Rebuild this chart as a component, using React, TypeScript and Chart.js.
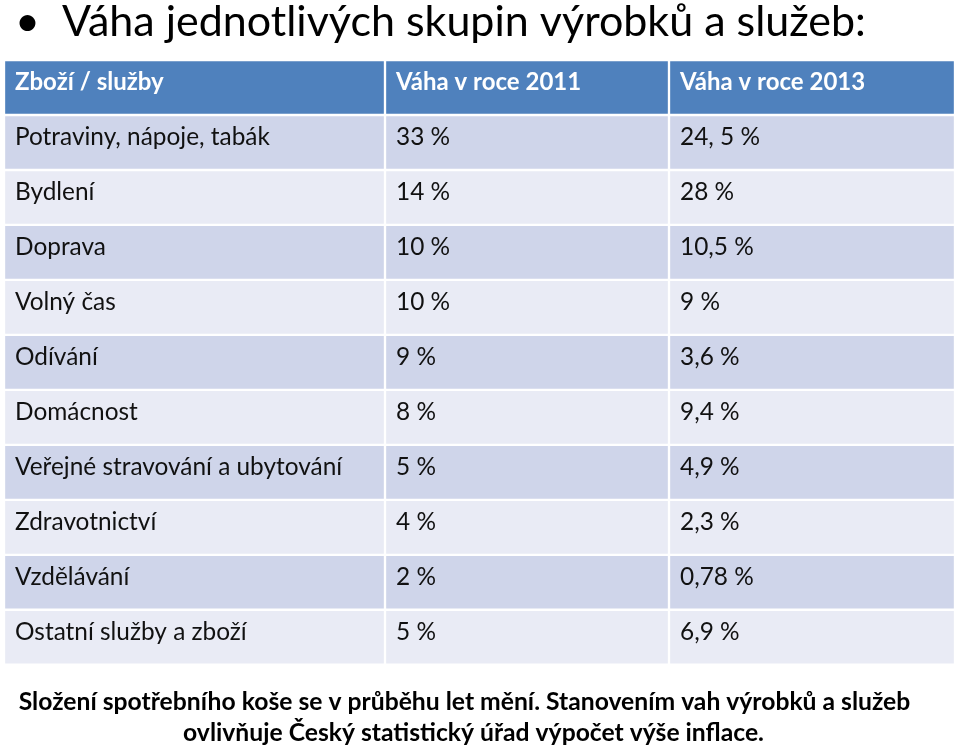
import React, { useEffect, useRef } from "react";
import { Chart, registerables } from "chart.js";

Chart.register(...registerables);

const titleText = " •  Váha jednotlivých skupin výrobků a služeb:";
const footerLines = [
  "Složení spotřebního koše se v průběhu let mění. Stanovením vah výrobků a služeb     ",
  "ovlivňuje Český statistický úřad výpočet výše inflace.  ",
];
const headers = ["Zboží / služby", "Váha v roce 2011", "Váha v roce 2013"];
const categories = [
  "Potraviny, nápoje, tabák",
  "Bydlení",
  "Doprava",
  "Volný čas",
  "Odívání",
  "Domácnost",
  "Veřejné stravování a ubytování",
  "Zdravotnictví",
  "Vzdělávání",
  "Ostatní služby a zboží",
];
const weights2011 = ["33 %", "14 %", "10 %", "10 %", "9 %", "8 %", "5 %", "4 %", "2 %", "5 %"];
const weights2013 = ["24, 5 %", "28 %", "10,5 %", "9 %", "3,6 %", "9,4 %", "4,9 %", "2,3 %", "0,78 %", "6,9 %"];

// layout widths of the three table columns
const columnWidths = [381, 284, 286];

const HEADER_BG = "#4F81BD";
const ROW_DARK = "#CFD5EA";
const ROW_LIGHT = "#E9EBF5";
const FONT = "Lato, 'Open Sans', sans-serif";

export default function App() {
  const ref = useRef<HTMLCanvasElement | null>(null);

  useEffect(() => {
    if (!ref.current) return;
    const rowLabels = ["header", ...categories];
    const columns = [
      [headers[0], ...categories],
      [headers[1], ...weights2011],
      [headers[2], ...weights2013],
    ];
    const rowColor = (i: number) => (i === 0 ? HEADER_BG : i % 2 === 1 ? ROW_DARK : ROW_LIGHT);

    const cellText = {
      id: "cellText",
      afterDatasetsDraw(chart: any) {
        const ctx = chart.ctx;
        ctx.save();
        ctx.textBaseline = "middle";
        ctx.textAlign = "left";
        chart.data.datasets.forEach((_: any, di: number) => {
          const meta = chart.getDatasetMeta(di);
          meta.data.forEach((el: any, ri: number) => {
            const left = Math.min(el.x, el.base);
            if (ri === 0) {
              ctx.font = `bold 24px ${FONT}`;
              ctx.fillStyle = "#ffffff";
            } else {
              ctx.font = `24.4px ${FONT}`;
              ctx.fillStyle = "#111111";
            }
            ctx.fillText(columns[di][ri], left + 11, el.y - 5);
          });
        });
        ctx.restore();
      },
    };

    const chart = new Chart(ref.current, {
      type: "bar",
      data: {
        labels: rowLabels,
        datasets: columnWidths.map((w, ci) => ({
          label: headers[ci],
          data: rowLabels.map(() => w),
          backgroundColor: rowLabels.map((_, i) => rowColor(i)),
          borderColor: "#ffffff",
          borderWidth: 1.5,
          borderSkipped: false,
          categoryPercentage: 1,
          barPercentage: 1,
        })),
      },
      options: {
        indexAxis: "y",
        animation: false,
        responsive: false,
        maintainAspectRatio: false,
        layout: { padding: { left: 4, right: 5, top: 0, bottom: 0 } },
        scales: {
          x: { stacked: true, display: false, min: 0, max: 951 },
          y: { stacked: true, display: false },
        },
        plugins: {
          legend: { display: false },
          tooltip: { enabled: false },
          title: {
            display: true,
            text: titleText,
            align: "start",
            color: "#000000",
            font: { family: FONT, size: 43, weight: "normal", lineHeight: 1.0 },
            padding: { top: 1, bottom: 16 },
          },
          subtitle: {
            display: true,
            position: "bottom",
            text: footerLines,
            color: "#000000",
            font: { family: FONT, size: 24.7, weight: "bold", lineHeight: 1.28 },
            padding: { top: 21, bottom: 0 },
          },
        },
      },
      plugins: [cellText],
    });
    return () => chart.destroy();
  }, []);

  return (
    <div style={{ position: "absolute", left: 0, top: 0, width: 960, height: 749, background: "#fff" }}>
      <canvas ref={ref} width={960} height={749} style={{ width: 960, height: 749 }} />
    </div>
  );
}
